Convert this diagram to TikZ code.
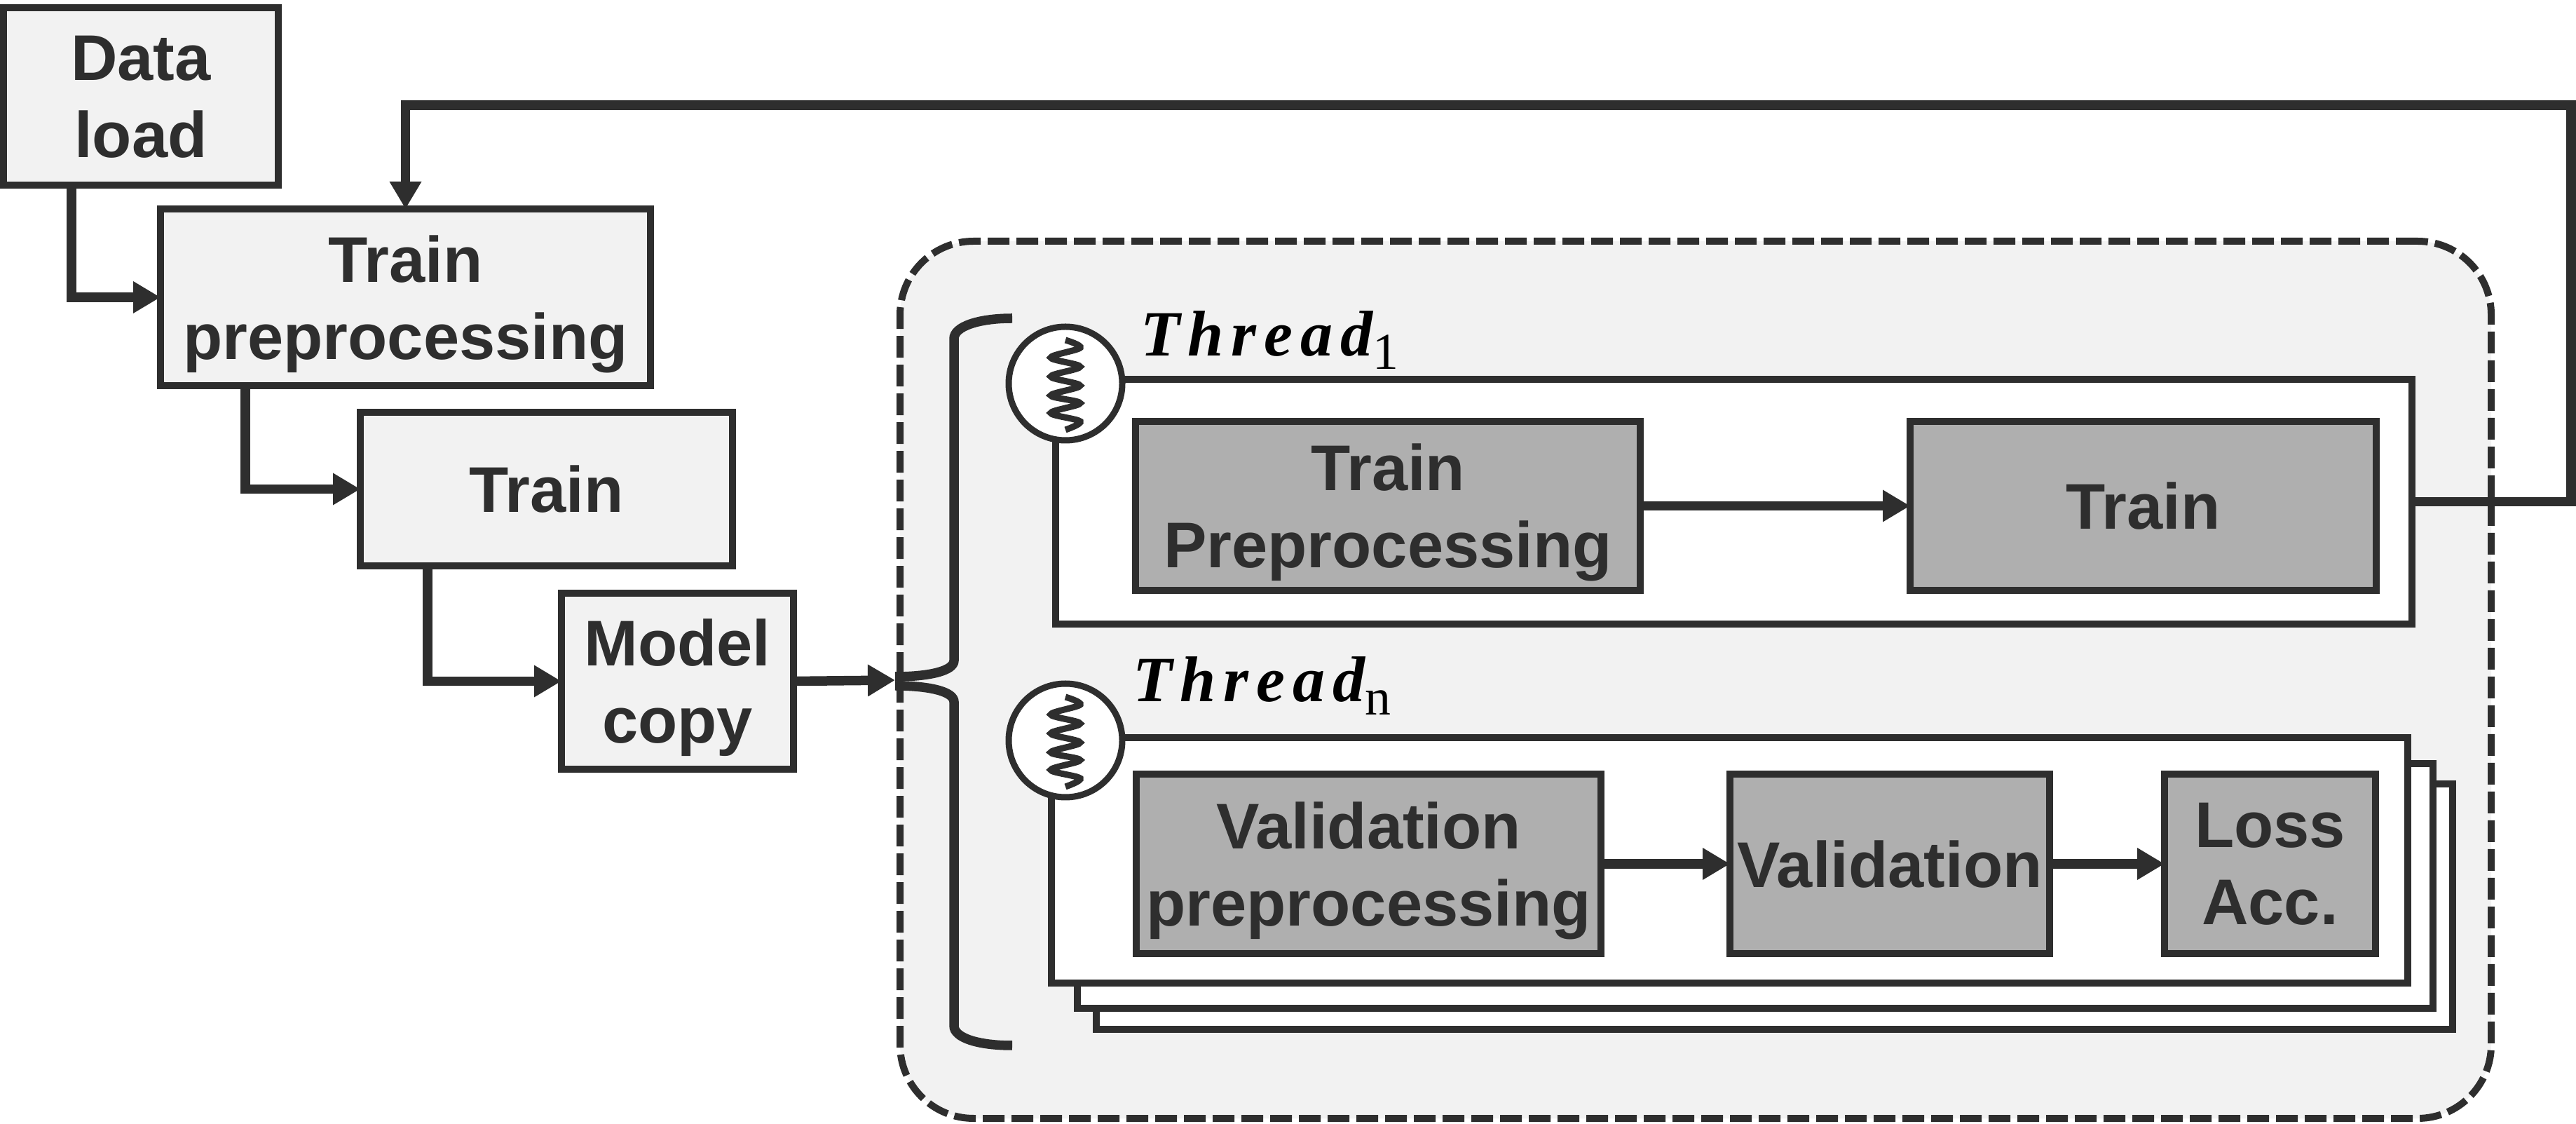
\documentclass[tikz,border=0pt]{standalone}
\usepackage{fontspec}
\usetikzlibrary{arrows.meta,positioning,calc}
\newfontfamily\labelfont[Ligatures=TeX]{Liberation Sans}
\newfontfamily\threadfont[LetterSpace=12]{Liberation Serif}
\newfontfamily\threadsub{Liberation Serif}
\definecolor{inkdark}{HTML}{2E2E2E}
\definecolor{panelgray}{HTML}{F2F2F2}
\definecolor{blockgray}{HTML}{AFAFAF}
\newcommand{\threadname}[1]{{\threadfont\bfseries\itshape Thread}\raisebox{-1.9mm}{\threadsub\fontsize{21}{21}\selectfont #1}}

\begin{document}
\begin{tikzpicture}[line width=1mm,draw=inkdark,
    every node/.style={font=\labelfont\bfseries\fontsize{26.2}{31.3}\selectfont,text=inkdark,inner sep=0pt,outer sep=0pt},
    box/.style={draw=inkdark,fill=panelgray,align=center,text depth=0pt},
    block/.style={draw=inkdark,fill=blockgray,align=center,text depth=0pt,minimum height=2.41cm},
    frame/.style={draw=inkdark,fill=white,minimum width=19.33cm,minimum height=3.5cm},
    flow/.style={draw=inkdark,line width=1.35mm,-{Triangle[length=3.9mm,width=4.3mm]}},
    threadcircle/.style={circle,draw=inkdark,fill=white,line width=.9mm,minimum size=1.62cm},
    threadlabel/.style={anchor=base west,text=black,font=\fontsize{26.2}{30}\selectfont},
    spring/.pic={\draw[inkdark,line width=.9mm] plot[smooth,tension=.55] coordinates
      {(0,.62) (.21,.51) (-.21,.37) (.21,.24) (-.21,.10) (.21,-.03) (-.21,-.17) (.21,-.28) (-.21,-.42) (.21,-.54) (0,-.66)};}]
  \useasboundingbox (0,0) rectangle (36.75,16.02);
  % Outer dashed panel
  \node[draw=inkdark,fill=panelgray,rounded corners=1.05cm,dash pattern=on 3.1mm off 1mm,
        minimum width=22.70cm,minimum height=12.51cm] (panel) at (24.19,6.325) {};
  % Main line on the left
  \node[box,minimum width=3.92cm,minimum height=2.53cm]  (load) at (2.01,14.645) {Data\\load};
  \node[box,minimum width=6.99cm,minimum height=2.52cm]  (prep) at (5.785,11.78) {Train\\preprocessing};
  \node[box,minimum width=5.31cm,minimum height=2.19cm]  (fit)  at (7.795,9.045) {Train};
  \node[box,minimum width=3.31cm,minimum height=2.51cm]  (copy) at (9.665,6.305) {Model\\copy};
  \draw[flow] ([xshift=.97cm]load.south west) |- (prep.west);
  \draw[flow] ([xshift=1.21cm]prep.south west) |- (fit.west);
  \draw[flow] ([xshift=.96cm]fit.south west) |- (copy.west);
  % Brace
  \coordinate (bracetip) at (12.77,6.32);
  \draw[flow] (copy.east) -- (bracetip);
  \draw[inkdark,line width=1.35mm] (14.44,11.48) .. controls (13.95,11.48) and (13.61,11.36) .. (13.61,11.19)
    -- (13.61,6.60) .. controls (13.61,6.45) and (13.25,6.37) .. (12.77,6.37);
  \draw[inkdark,line width=1.35mm] (12.77,6.24) .. controls (13.25,6.24) and (13.61,6.16) .. (13.61,6.01)
    -- (13.61,1.39) .. controls (13.61,1.22) and (13.95,1.11) .. (14.44,1.11);
  % First thread
  \node[frame,minimum width=19.35cm,minimum height=3.49cm] (threadone) at (24.735,8.865) {};
  \node[threadcircle] (circleone) at (15.20,10.55) {};
  \pic at (circleone) {spring};
  \node[threadlabel] (labelone) at (16.27,10.94) {\threadname{1}};
  \node[block,minimum width=7.20cm] (tprep) at (19.80,8.805) {Train\\Preprocessing};
  \node[block,minimum width=6.65cm] (tfit)  at (30.575,8.805) {Train};
  \draw[flow] (tprep) -- (tfit);
  % Last thread with its stack
  \node[frame,minimum width=19.35cm] (stackc) at (25.315,3.09) {};
  \node[frame,minimum width=19.34cm,minimum height=3.49cm] (stackb) at (25.04,3.385) {};
  \node[frame,minimum width=19.35cm] (threadn) at (24.675,3.75) {};
  \node[threadcircle] (circlen) at (15.20,5.46) {};
  \pic at (circlen) {spring};
  \node[threadlabel] (labeln) at (16.16,6.01) {\threadname{n}};
  \node[block,minimum width=6.63cm,minimum height=2.56cm] (vprep) at (19.525,3.70) {Validation\\preprocessing};
  \node[block,minimum width=4.56cm,minimum height=2.56cm] (vrun)  at (26.96,3.70) {Validation};
  \node[block,minimum width=3.01cm,minimum height=2.56cm] (vloss) at (32.385,3.70) {Loss\\Acc.};
  \draw[flow] (vprep) -- (vrun);
  \draw[flow] (vrun) -- (vloss);
  % Feedback to the preprocessing
  \coordinate (backcorner) at (36.68,14.52);
  \draw[flow] (threadone.east) -| (backcorner) -| (prep.north);
\end{tikzpicture}
\end{document}
